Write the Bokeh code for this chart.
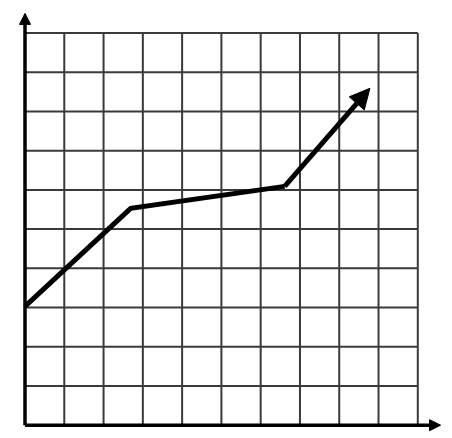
from bokeh.plotting import figure
from bokeh.models import Arrow, NormalHead, Range1d
from bokeh.embed import file_html
from bokeh.resources import INLINE

# data
grid_ticks = [0, 1, 2, 3, 4, 5, 6, 7, 8, 9, 10]
line_x = [0.0, 2.69, 6.61]
line_y = [3.03, 5.53, 6.09]
arrow_tip = [8.78, 8.59]
axis_len_x = 10.58
axis_len_y = 10.5

W, H = 446, 432
sx, sy = 39.28, 39.22
x0_px, y0_px = 24.5, 424.7

p = figure(width=W, height=H, output_backend="svg", toolbar_location=None,
           x_range=Range1d(-x0_px / sx, (W - x0_px) / sx),
           y_range=Range1d((y0_px - H) / sy, y0_px / sy),
           min_border=0, outline_line_color=None)
p.axis.visible = False
p.grid.visible = False
p.background_fill_color = "white"
p.border_fill_color = "white"

lo, hi = grid_ticks[0], grid_ticks[-1]
n = len(grid_ticks)
# vertical grid lines
p.segment(x0=grid_ticks, y0=[lo] * n, x1=grid_ticks, y1=[hi] * n,
          line_color="#3a3a3a", line_width=2)
# horizontal grid lines
p.segment(x0=[lo] * n, y0=grid_ticks, x1=[hi] * n, y1=grid_ticks,
          line_color="#3a3a3a", line_width=2)

# axes with arrows
p.add_layout(Arrow(x_start=0, y_start=0, x_end=axis_len_x, y_end=0,
                   line_width=3.5, line_color="black",
                   end=NormalHead(size=11, fill_color="black", line_color="black")))
p.add_layout(Arrow(x_start=0, y_start=0, x_end=0, y_end=axis_len_y,
                   line_width=3.5, line_color="black",
                   end=NormalHead(size=11, fill_color="black", line_color="black")))

# main line
p.line(line_x, line_y, line_width=5, line_color="black", line_join="miter")
p.add_layout(Arrow(x_start=line_x[-1], y_start=line_y[-1], x_end=arrow_tip[0], y_end=arrow_tip[1],
                   line_width=5, line_color="black",
                   end=NormalHead(size=20, fill_color="black", line_color="black")))

open("out.html", "w").write(file_html(p, INLINE))
